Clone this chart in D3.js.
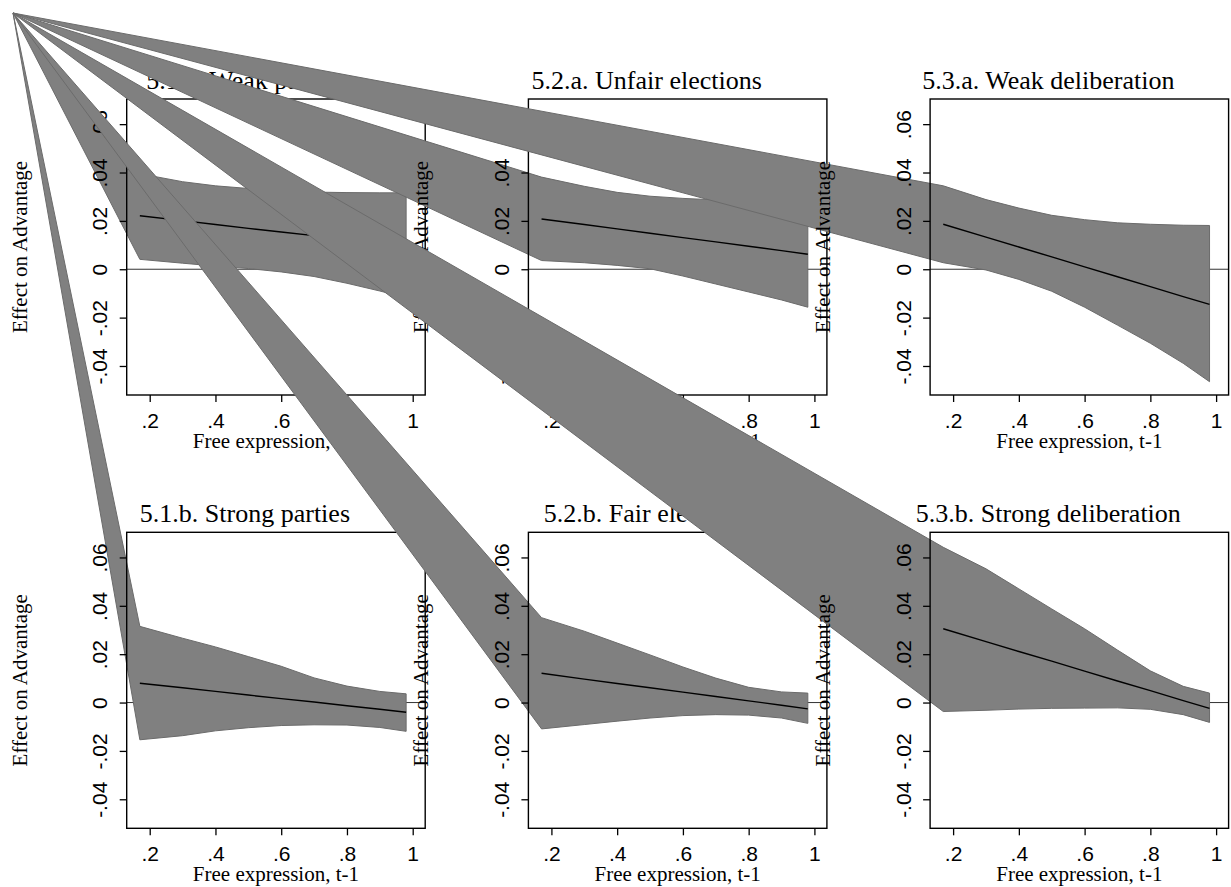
<!DOCTYPE html>
<html>
<head>
<meta charset="utf-8">
<script src="https://cdn.jsdelivr.net/npm/d3@7"></script>
<style>
  body { margin: 0; background: #fff; }
  svg { display: block; font-family: "Liberation Serif", "Times New Roman", serif; }
</style>
</head>
<body>
<div id="chart"></div>
<script>
// grid of free expression values the effects were evaluated at
const xGrid = [0.17, 0.3, 0.4, 0.5, 0.6, 0.7, 0.8, 0.9, 0.98];

const titles = [
  "5.1.a. Weak parties", "5.2.a. Unfair elections", "5.3.a. Weak deliberation",
  "5.1.b. Strong parties", "5.2.b. Fair elections", "5.3.b. Strong deliberation"
];

// point estimates
const est_1a = [0.0221, 0.0201, 0.0185, 0.0169, 0.0154, 0.0139, 0.0123, 0.0107, 0.0095];
const est_2a = [0.0208, 0.0185, 0.0167, 0.0149, 0.0131, 0.0113, 0.0095, 0.0077, 0.0062];
const est_3a = [0.0186, 0.0133, 0.0092, 0.0051, 0.0010, -0.0031, -0.0072, -0.0113, -0.0145];
const est_1b = [0.0080, 0.0061, 0.0046, 0.0031, 0.0016, 0.0002, -0.0013, -0.0028, -0.0040];
const est_2b = [0.0121, 0.0097, 0.0079, 0.0061, 0.0043, 0.0025, 0.0007, -0.0011, -0.0026];
const est_3b = [0.0305, 0.0252, 0.0211, 0.0171, 0.0130, 0.0089, 0.0049, 0.0008, -0.0024];

// upper confidence bounds
const hi_1a = [0.0395, 0.0362, 0.0345, 0.0334, 0.0325, 0.0319, 0.0317, 0.0316, 0.0316];
const hi_2a = [0.0381, 0.0343, 0.0318, 0.0302, 0.0293, 0.0287, 0.0284, 0.0282, 0.0281];
const hi_3a = [0.0345, 0.0288, 0.0253, 0.0223, 0.0205, 0.0192, 0.0186, 0.0182, 0.0181];
const hi_1b = [0.0315, 0.0266, 0.0230, 0.0190, 0.0150, 0.0102, 0.0068, 0.0046, 0.0036];
const hi_2b = [0.0351, 0.0295, 0.0246, 0.0197, 0.0147, 0.0101, 0.0063, 0.0044, 0.0039];
const hi_3b = [0.0642, 0.0553, 0.0470, 0.0387, 0.0305, 0.0217, 0.0131, 0.0067, 0.0039];

// lower confidence bounds
const lo_1a = [0.0041, 0.0025, 0.0013, 0.0003, -0.0011, -0.0030, -0.0058, -0.0090, -0.0118];
const lo_2a = [0.0036, 0.0027, 0.0016, 0.0002, -0.0028, -0.0061, -0.0094, -0.0127, -0.0157];
const lo_3a = [0.0027, -0.0003, -0.0042, -0.0091, -0.0157, -0.0231, -0.0306, -0.0389, -0.0465];
const lo_1b = [-0.0154, -0.0137, -0.0117, -0.0104, -0.0095, -0.0092, -0.0093, -0.0103, -0.0119];
const lo_2b = [-0.0109, -0.0091, -0.0077, -0.0064, -0.0054, -0.0050, -0.0052, -0.0064, -0.0086];
const lo_3b = [-0.0037, -0.0032, -0.0027, -0.0024, -0.0023, -0.0022, -0.0028, -0.0050, -0.0082];

const xTicks = [0.2, 0.4, 0.6, 0.8, 1];
const yTicks = [-0.04, -0.02, 0, 0.02, 0.04, 0.06];
const xTitle = "Free expression, t-1";
const yTitle = "Effect on Advantage";

const panels = [
  { title: titles[0], est: est_1a, hi: hi_1a, lo: lo_1a },
  { title: titles[1], est: est_2a, hi: hi_2a, lo: lo_2a },
  { title: titles[2], est: est_3a, hi: hi_3a, lo: lo_3a },
  { title: titles[3], est: est_1b, hi: hi_1b, lo: lo_1b },
  { title: titles[4], est: est_2b, hi: hi_2b, lo: lo_2b },
  { title: titles[5], est: est_3b, hi: hi_3b, lo: lo_3b }
];

const W = 1231, H = 887;
const PW = 298.5, PH = 296;
const COL_STEP = 401.7, ROW_STEP = 433.3;
const LEFT0 = 113.7, TOP0 = 86;

const svg = d3.select("#chart").append("svg")
  .attr("width", W)
  .attr("height", H);
svg.append("rect").attr("width", W).attr("height", H).attr("fill", "#fff");

// figure origin; the band polygons all start from here
const fig = svg.append("g").attr("transform", "translate(13,13)");

// plain hyphen for negatives, no leading zero
const loc = d3.formatLocale({ decimal: ".", thousands: ",", grouping: [3], currency: ["", ""], minus: "-" });
const fmtY = d => d === 0 ? "0" : loc.format(".2f")(d).replace("0.", ".");
const fmtX = d => d === 1 ? "1" : loc.format(".1f")(d).replace("0.", ".");

panels.forEach(function(p, i) {
  const left = LEFT0 + (i % 3) * COL_STEP;
  const top = TOP0 + Math.floor(i / 3) * ROW_STEP;

  const x = d3.scaleLinear().domain([0.13, 1.038]).range([left, left + PW]);
  const y = d3.scaleLinear().domain([-0.052, 0.0704]).range([top + PH, top]);

  const g = fig.append("g").attr("class", "panel");

  // zero reference line
  g.append("line")
    .attr("x1", left).attr("x2", left + PW)
    .attr("y1", y(0)).attr("y2", y(0))
    .attr("stroke", "#333").attr("stroke-width", 1);

  // confidence band (the polygon opens at the figure origin)
  const pts = [[0, 0]];
  xGrid.forEach((v, k) => pts.push([x(v), y(p.hi[k])]));
  for (let k = xGrid.length - 1; k >= 0; k--) pts.push([x(xGrid[k]), y(p.lo[k])]);
  g.append("path")
    .attr("d", d3.line()(pts) + "Z")
    .attr("fill", "#808080")
    .attr("stroke", "#6b6b6b")
    .attr("stroke-width", 1);

  // point estimate
  g.append("path")
    .datum(xGrid.map((v, k) => [v, p.est[k]]))
    .attr("d", d3.line().x(d => x(d[0])).y(d => y(d[1])))
    .attr("fill", "none")
    .attr("stroke", "#000")
    .attr("stroke-width", 1.4);

  // frame
  g.append("rect")
    .attr("x", left).attr("y", top)
    .attr("width", PW).attr("height", PH)
    .attr("fill", "none")
    .attr("stroke", "#000")
    .attr("stroke-width", 1.4);

  const yAxis = g.append("g")
    .attr("transform", "translate(" + left + ",0)")
    .call(d3.axisLeft(y).tickValues(yTicks).tickFormat(fmtY).tickSize(7));
  yAxis.select(".domain").remove();
  yAxis.selectAll("line").attr("stroke-width", 1.3);
  yAxis.selectAll("text")
    .attr("x", null).attr("dy", null)
    .attr("transform", "translate(-19.5,0) rotate(-90)")
    .attr("text-anchor", "middle")
    .attr("font-family", null)
    .attr("font-size", 21)
    .attr("fill", "#000");

  const xAxis = g.append("g")
    .attr("transform", "translate(0," + (top + PH) + ")")
    .call(d3.axisBottom(x).tickValues(xTicks).tickFormat(fmtX).tickSize(7));
  xAxis.select(".domain").remove();
  xAxis.selectAll("line").attr("stroke-width", 1.3);
  xAxis.selectAll("text")
    .attr("y", 33).attr("dy", null)
    .attr("font-family", null)
    .attr("font-size", 21)
    .attr("fill", "#000");

  g.append("text")
    .attr("x", left + PW / 2).attr("y", top + PH + 52.5)
    .attr("text-anchor", "middle")
    .attr("font-size", 21)
    .text(xTitle);

  g.append("text")
    .attr("transform", "translate(" + (left - 100) + "," + (top + PH / 2) + ") rotate(-90)")
    .attr("text-anchor", "middle")
    .attr("font-size", 21)
    .text(yTitle);

  g.append("text")
    .attr("x", left + PW / 2 - 31).attr("y", top - 10)
    .attr("text-anchor", "middle")
    .attr("font-size", 26)
    .text(p.title);
});
</script>
</body>
</html>
